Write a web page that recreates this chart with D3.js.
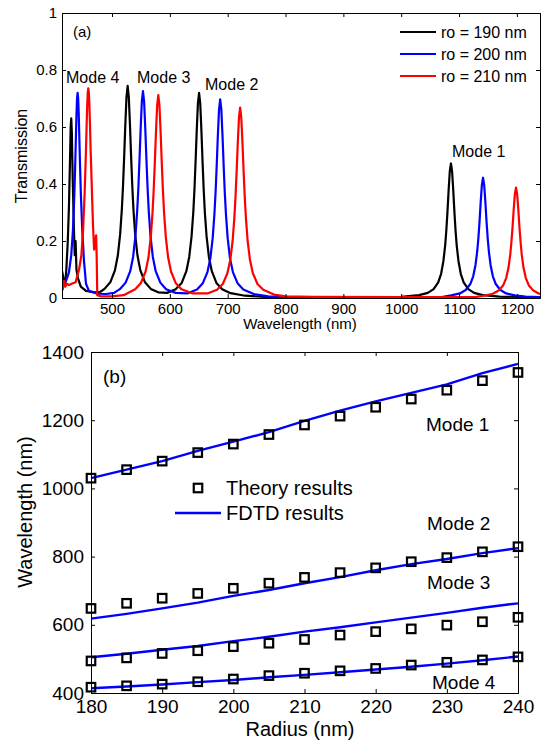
<!DOCTYPE html>
<html>
<head>
<meta charset="utf-8">
<script src="https://cdn.jsdelivr.net/npm/d3@7"></script>
<style>
  body { margin: 0; background: #fff; }
  svg { font-family: "Liberation Sans", Arial, sans-serif; }
  .axis path, .axis line { stroke: #000; }
  .axis text { fill: #000; }
</style>
</head>
<body>
<div id="chart"></div>
<script>
// Panel (a) - transmission spectra, [wavelength nm, transmission]
const ro190 = [[413,0.10],[416,0.07],[419,0.05],[421,0.1],[423.5,0.2],[425.5,0.32],[427.5,0.5],[428.5,0.6],[429.5,0.63],[430.5,0.58],[432,0.42],[434,0.25],[435.5,0.15],[437,0.2],[438.5,0.1],[441,0.07],[446,0.04],[455,0.025],[470,0.02],[480,0.022],[487,0.032],[497,0.055],[505,0.097],[510,0.149],[514,0.223],[517,0.312],[519,0.394],[521,0.496],[523,0.609],[525,0.705],[527,0.744],[529,0.705],[531,0.609],[533,0.496],[535,0.394],[537,0.312],[540,0.223],[544,0.149],[549,0.097],[557,0.055],[567,0.032],[580,0.02],[595,0.018],[610,0.031],[620.5,0.053],[628.5,0.094],[633.5,0.144],[637.5,0.216],[640.5,0.30],[642.5,0.38],[644.5,0.48],[646.5,0.59],[648.5,0.683],[650.5,0.72],[652.5,0.683],[654.5,0.59],[656.5,0.48],[658.5,0.38],[660.5,0.30],[663.5,0.216],[667.5,0.144],[672.5,0.094],[680.5,0.053],[690.5,0.031],[705,0.017],[730,0.008],[770,0.003],[850,0.001],[1000,0.004],[1031,0.01],[1046,0.018],[1056,0.031],[1064,0.055],[1069,0.085],[1073,0.13],[1076,0.184],[1078,0.236],[1080,0.302],[1082,0.378],[1084,0.444],[1086,0.472],[1088,0.444],[1090,0.378],[1092,0.302],[1094,0.236],[1096,0.184],[1099,0.13],[1103,0.085],[1108,0.055],[1116,0.031],[1126,0.018],[1141,0.01],[1170,0.005],[1240,0.002]];
const ro200 = [[413,0.06],[416,0.05],[420.5,0.06],[425.5,0.09],[429.5,0.15],[432.5,0.24],[434.8,0.36],[436.5,0.48],[437.5,0.56],[438.5,0.64],[439.5,0.70],[440.5,0.72],[441.5,0.70],[442.5,0.64],[443.5,0.56],[444.5,0.48],[446.2,0.36],[448.5,0.24],[451.5,0.13],[455,0.05],[460,0.025],[475,0.015],[490,0.014],[503.5,0.018],[513.5,0.031],[523.5,0.054],[531.5,0.094],[536.5,0.145],[540.5,0.218],[543.5,0.305],[545.5,0.385],[547.5,0.484],[549.5,0.595],[551.5,0.688],[553.5,0.726],[555.5,0.688],[557.5,0.595],[559.5,0.484],[561.5,0.385],[563.5,0.305],[566.5,0.218],[570.5,0.145],[575.5,0.094],[583.5,0.054],[593.5,0.031],[610,0.018],[630,0.016],[647,0.03],[657,0.052],[665,0.091],[670,0.139],[674,0.209],[677,0.293],[679,0.369],[681,0.465],[683,0.571],[685,0.661],[687,0.697],[689,0.661],[691,0.571],[693,0.465],[695,0.369],[697,0.293],[700,0.209],[704,0.139],[709,0.091],[717,0.052],[727,0.03],[745,0.014],[770,0.006],[820,0.002],[900,0.001],[1070,0.003],[1086.5,0.009],[1101.5,0.016],[1111.5,0.028],[1119.5,0.049],[1124.5,0.076],[1128.5,0.116],[1131.5,0.165],[1133.5,0.211],[1135.5,0.27],[1137.5,0.338],[1139.5,0.397],[1141.5,0.422],[1143.5,0.397],[1145.5,0.338],[1147.5,0.27],[1149.5,0.211],[1151.5,0.165],[1154.5,0.116],[1158.5,0.076],[1163.5,0.049],[1171.5,0.028],[1181.5,0.016],[1196.5,0.009],[1215,0.005],[1240,0.003]];
const ro210 = [[413,0.05],[415,0.03],[417,0.06],[419,0.04],[422,0.05],[426,0.045],[430,0.05],[437,0.055],[443,0.1],[447,0.15],[450,0.24],[452.7,0.37],[455,0.52],[456,0.6],[457,0.67],[458,0.72],[459,0.736],[460,0.72],[461,0.67],[462,0.6],[463,0.52],[465.3,0.37],[467,0.26],[469,0.17],[471,0.2],[472.5,0.22],[473.5,0.14],[474.5,0.01],[480,0.006],[500,0.006],[520,0.01],[540,0.031],[550,0.053],[558,0.093],[563,0.142],[567,0.214],[570,0.299],[572,0.377],[574,0.475],[576,0.583],[578,0.675],[580,0.712],[582,0.675],[584,0.583],[586,0.475],[588,0.377],[590,0.299],[593,0.214],[597,0.142],[602,0.093],[610,0.053],[620,0.031],[640,0.016],[665,0.016],[681.5,0.029],[691.5,0.049],[699.5,0.087],[704.5,0.134],[708.5,0.2],[711.5,0.281],[713.5,0.354],[715.5,0.446],[717.5,0.547],[719.5,0.633],[721.5,0.668],[723.5,0.633],[725.5,0.547],[727.5,0.446],[729.5,0.354],[731.5,0.281],[734.5,0.2],[738.5,0.134],[743.5,0.087],[751.5,0.049],[761.5,0.029],[780,0.012],[800,0.006],[850,0.004],[1000,0.003],[1130,0.004],[1143.5,0.008],[1158.5,0.015],[1168.5,0.026],[1176.5,0.045],[1181.5,0.07],[1185.5,0.106],[1188.5,0.151],[1190.5,0.194],[1192.5,0.248],[1194.5,0.31],[1196.5,0.364],[1198.5,0.387],[1200.5,0.364],[1202.5,0.31],[1204.5,0.248],[1206.5,0.194],[1208.5,0.151],[1211.5,0.106],[1215.5,0.07],[1220.5,0.045],[1228.5,0.026],[1238.5,0.015],[1240,0.014]];
const seriesA = [
  {name: "ro = 190 nm", color: "#000000", data: ro190},
  {name: "ro = 200 nm", color: "#0000ff", data: ro200},
  {name: "ro = 210 nm", color: "#ff0000", data: ro210}
];
const xTicksA = [500, 600, 700, 800, 900, 1000, 1100, 1200];
const yTicksA = [0, 0.2, 0.4, 0.6, 0.8, 1];

// Panel (b) - resonance wavelength vs radius
const radius = [180, 185, 190, 195, 200, 205, 210, 215, 220, 225, 230, 235, 240];
const theory1 = [1030, 1055, 1080, 1105, 1130, 1158, 1186, 1212, 1238, 1262, 1288, 1316, 1340];
const theory2 = [648, 663, 678, 692, 707, 722, 739, 753, 767, 785, 797, 814, 829];
const theory3 = [494, 503, 516, 524, 536, 546, 557, 570, 580, 588, 599, 609, 622];
const theory4 = [417, 421, 426, 433, 441, 451, 458, 465, 472, 482, 490, 497, 506];
const fdtd1 = [1030, 1055, 1080, 1110, 1137, 1165, 1198, 1228, 1255, 1280, 1305, 1338, 1365];
const fdtd2 = [618, 632, 648, 665, 685, 702, 722, 740, 760, 778, 793, 810, 825];
const fdtd3 = [505, 515, 527, 538, 552, 565, 580, 593, 607, 621, 635, 650, 663];
const fdtd4 = [414, 419, 425, 432, 438, 446, 453, 461, 469, 477, 486, 496, 507];
const xTicksB = [180, 190, 200, 210, 220, 230, 240];
const yTicksB = [400, 600, 800, 1000, 1200, 1400];

const W = 550, H = 742;
const svg = d3.select("#chart").append("svg")
  .attr("width", W)
  .attr("height", H);

// boxed frame, inward ticks on all four sides
function frame(g, x, y, xt, yt, fs, pad, xfmt, yfmt) {
  const [x0, x1] = x.range(), [y0, y1] = y.range();
  g.append("g").attr("class", "axis")
    .attr("transform", `translate(0,${y0})`)
    .call(d3.axisBottom(x).tickValues(xt).tickSize(-4).tickPadding(pad[0]).tickFormat(xfmt))
    .call(s => s.selectAll("text").style("font-size", fs + "px"));
  g.append("g").attr("class", "axis")
    .attr("transform", `translate(0,${y1})`)
    .call(d3.axisTop(x).tickValues(xt).tickSize(-4).tickFormat(""));
  g.append("g").attr("class", "axis")
    .attr("transform", `translate(${x0},0)`)
    .call(d3.axisLeft(y).tickValues(yt).tickSize(-4).tickPadding(pad[1]).tickFormat(yfmt))
    .call(s => s.selectAll("text").style("font-size", fs + "px"));
  g.append("g").attr("class", "axis")
    .attr("transform", `translate(${x1},0)`)
    .call(d3.axisRight(y).tickValues(yt).tickSize(-4).tickFormat(""));
}

// ---------- panel (a)
const xa = d3.scaleLinear().domain([413.5, 1240]).range([62, 540]);
const ya = d3.scaleLinear().domain([0, 1]).range([298, 13]);
const ga = svg.append("g");

svg.append("clipPath").attr("id", "clipA")
  .append("rect").attr("x", 62).attr("y", 13).attr("width", 478).attr("height", 286);

const lineA = d3.line().x(d => xa(d[0])).y(d => ya(d[1]));
ga.append("g").attr("clip-path", "url(#clipA)")
  .selectAll("path")
  .data(seriesA)
  .join("path")
    .attr("d", d => lineA(d.data))
    .attr("fill", "none")
    .attr("stroke", d => d.color)
    .attr("stroke-width", 2.2)
    .attr("stroke-linejoin", "round");

frame(ga, xa, ya, xTicksA, yTicksA, 15, [5, 5], d3.format("d"), d3.format("~g"));

ga.append("text").attr("x", 27).attr("y", 156)
  .attr("transform", "rotate(-90,27,156)")
  .attr("text-anchor", "middle").style("font-size", "16px")
  .text("Transmission");
ga.append("text").attr("x", 300).attr("y", 329)
  .attr("text-anchor", "middle").style("font-size", "15px")
  .text("Wavelength (nm)");
ga.append("text").attr("x", 73).attr("y", 37).style("font-size", "15px").text("(a)");

const modeA = [
  {t: "Mode 4", x: 66, y: 83},
  {t: "Mode 3", x: 137, y: 83},
  {t: "Mode 2", x: 205, y: 90},
  {t: "Mode 1", x: 452, y: 157}
];
ga.selectAll(".modeA").data(modeA).join("text")
  .attr("x", d => d.x).attr("y", d => d.y)
  .style("font-size", "16px").text(d => d.t);

const legA = ga.selectAll(".legA").data(seriesA).join("g")
  .attr("transform", (d, i) => `translate(0,${32 + i * 22})`);
legA.append("line").attr("x1", 400).attr("x2", 436).attr("y1", 0).attr("y2", 0)
  .attr("stroke", d => d.color).attr("stroke-width", 2.2);
legA.append("text").attr("x", 441).attr("y", 6).style("font-size", "16px").text(d => d.name);

// ---------- panel (b)
const xb = d3.scaleLinear().domain([180, 240]).range([91, 518]);
const yb = d3.scaleLinear().domain([400, 1400]).range([693, 352]);
const gb = svg.append("g");

const fdtd = [fdtd1, fdtd2, fdtd3, fdtd4];
const theory = [theory1, theory2, theory3, theory4];

const lineB = d3.line().x((d, i) => xb(radius[i])).y(d => yb(d));
gb.selectAll(".fdtd").data(fdtd).join("path")
  .attr("d", lineB)
  .attr("fill", "none")
  .attr("stroke", "#0000ff")
  .attr("stroke-width", 2.4);

const sq = 8.5;
theory.forEach(arr => {
  gb.append("g").selectAll("rect").data(arr).join("rect")
    .attr("x", (d, i) => xb(radius[i]) - sq / 2)
    .attr("y", d => yb(d) - sq / 2)
    .attr("width", sq).attr("height", sq)
    .attr("fill", "none").attr("stroke", "#000").attr("stroke-width", 2.2);
});

frame(gb, xb, yb, xTicksB, yTicksB, 19, [7, 7], d3.format("d"), d3.format("d"));

gb.append("text").attr("x", 32).attr("y", 512)
  .attr("transform", "rotate(-90,32,512)")
  .attr("text-anchor", "middle").style("font-size", "20px")
  .text("Wavelength (nm)");
gb.append("text").attr("x", 300).attr("y", 736)
  .attr("text-anchor", "middle").style("font-size", "20px")
  .text("Radius (nm)");
gb.append("text").attr("x", 103).attr("y", 383).style("font-size", "19px").text("(b)");

// legend
gb.append("rect").attr("x", 198 - sq / 2).attr("y", 488 - sq / 2)
  .attr("width", sq).attr("height", sq)
  .attr("fill", "none").attr("stroke", "#000").attr("stroke-width", 2.2);
gb.append("text").attr("x", 226).attr("y", 495).style("font-size", "20px").text("Theory results");
gb.append("line").attr("x1", 175).attr("x2", 221).attr("y1", 513).attr("y2", 513)
  .attr("stroke", "#0000ff").attr("stroke-width", 2.4);
gb.append("text").attr("x", 226).attr("y", 520).style("font-size", "20px").text("FDTD results");

const modeB = [
  {t: "Mode 1", x: 426, y: 431},
  {t: "Mode 2", x: 427, y: 530},
  {t: "Mode 3", x: 427, y: 589},
  {t: "Mode 4", x: 432, y: 689}
];
gb.selectAll(".modeB").data(modeB).join("text")
  .attr("x", d => d.x).attr("y", d => d.y)
  .style("font-size", "19px").text(d => d.t);
</script>
</body>
</html>
